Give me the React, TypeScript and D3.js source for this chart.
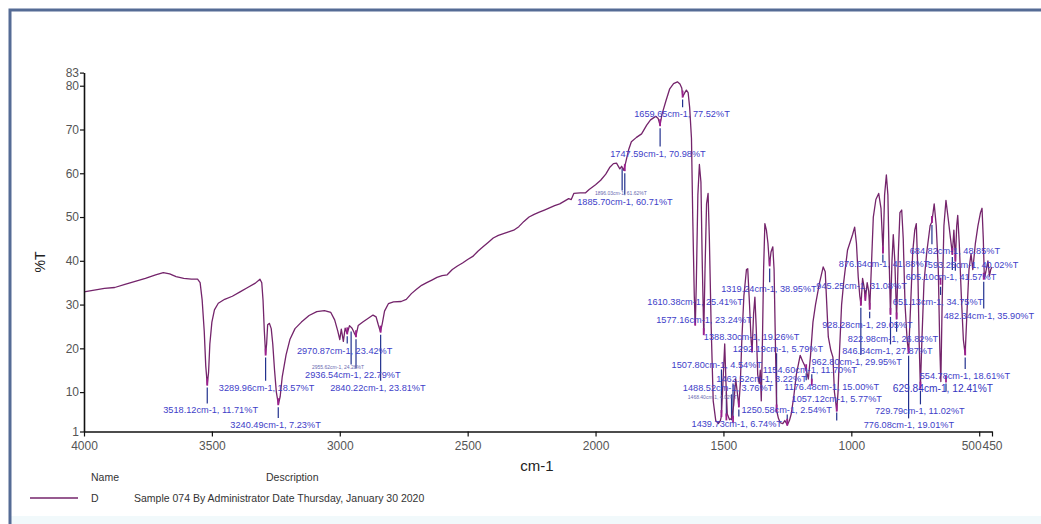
import React, { useEffect, useRef } from 'react'
import * as d3 from 'd3'

const W = 1041
const H = 524

// spectrum, [wavenumber cm-1, %T]
const hydroxylRegion: [number, number][] = [
  [4000, 32.9], [3960, 33.3], [3920, 33.7], [3880, 33.9], [3840, 34.6], [3800, 35.3],
  [3760, 36.0], [3720, 36.8], [3690, 37.3], [3665, 37.0], [3640, 36.4], [3610, 36.0],
  [3580, 35.8], [3556, 35.8], [3546, 35.0], [3538, 31.0], [3530, 24.0], [3524, 16.0],
  [3518, 11.7], [3513, 14.5], [3508, 21.0], [3500, 26.0], [3490, 28.8], [3475, 30.3],
  [3450, 31.2], [3420, 31.9], [3390, 32.9], [3360, 33.9], [3330, 34.9], [3312, 35.8],
  [3305, 35.0], [3300, 31.0], [3295, 24.0], [3290, 18.6], [3286, 21.0], [3282, 25.4],
  [3275, 25.7], [3268, 24.5], [3262, 21.0], [3255, 15.0], [3248, 10.0], [3240, 7.2],
  [3233, 9.0], [3225, 13.5], [3210, 18.5], [3195, 22.0], [3175, 24.5], [3150, 26.0],
  [3120, 27.5], [3090, 28.4], [3060, 28.6], [3035, 28.2], [3020, 26.5], [3008, 24.0],
  [3000, 22.0], [2994, 24.4], [2986, 21.6], [2979, 24.6], [2971, 23.4], [2962, 25.2],
  [2952, 24.6], [2944, 23.6], [2937, 22.8], [2928, 25.2], [2910, 26.0], [2890, 26.8],
  [2870, 27.6], [2858, 27.2], [2850, 25.5], [2841, 23.8], [2834, 25.6], [2825, 28.5],
  [2810, 30.2], [2790, 30.6], [2760, 30.7], [2740, 31.2], [2720, 32.5], [2700, 33.5],
  [2680, 34.4], [2660, 35.0], [2640, 35.6],
]

const baselineRegion: [number, number][] = [
  [2620, 36.2], [2600, 36.6], [2580, 36.8], [2560, 38.0], [2540, 38.8], [2520, 39.5],
  [2500, 40.3], [2480, 41.0], [2460, 42.2], [2440, 43.2], [2420, 44.2], [2400, 45.2],
  [2380, 45.8], [2360, 46.2], [2340, 46.6], [2320, 47.0], [2300, 47.8], [2280, 49.0],
  [2260, 50.0], [2240, 50.6], [2220, 51.1], [2200, 51.6], [2180, 52.1], [2160, 52.6],
  [2140, 53.0], [2120, 53.7], [2105, 54.2], [2095, 54.0], [2085, 55.4], [2060, 55.5],
  [2040, 55.5], [2025, 56.3], [2000, 57.4], [1980, 58.4], [1960, 59.8], [1945, 61.3],
  [1930, 62.2], [1918, 62.3], [1905, 61.0], [1898, 61.6], [1890, 60.7], [1882, 62.5],
  [1870, 65.5], [1860, 67.2], [1840, 68.2], [1820, 69.0], [1800, 71.0], [1785, 72.2],
  [1765, 73.0], [1755, 72.5], [1748, 71.0], [1740, 73.5], [1725, 76.5], [1710, 79.3],
  [1695, 80.5], [1680, 80.9], [1670, 80.4], [1663, 79.5], [1659, 77.5], [1652, 78.3],
  [1645, 79.0], [1638, 78.4],
]

const fingerprintRegion: [number, number][] = [
  [1632, 75], [1625, 68], [1620, 50], [1614, 32], [1610, 25.4], [1606, 35], [1600, 55],
  [1594, 62], [1588, 58], [1583, 40], [1577, 23.2], [1572, 38], [1566, 53], [1560, 55.4],
  [1555, 45], [1548, 25], [1540, 8], [1530, 3.5], [1520, 2.8], [1512, 3.5], [1508, 4.5],
  [1502, 12], [1495, 21], [1490, 12], [1485, 5], [1476, 3.7], [1468, 4], [1460, 7],
  [1452, 13], [1446, 10], [1440, 6.7], [1434, 12], [1428, 22], [1420, 32], [1410, 38],
  [1405, 38.2], [1398, 30], [1392, 22], [1388, 19.3], [1382, 28], [1377, 31.7], [1372, 25],
  [1366, 14], [1360, 12], [1356, 15], [1352, 8], [1348, 20], [1343, 38], [1338, 48.5],
  [1332, 47], [1326, 44], [1320, 39], [1314, 42], [1307, 43.2], [1302, 38], [1298, 25],
  [1292, 5.8], [1285, 4], [1278, 3], [1268, 2.8], [1260, 3.5], [1250, 2.5], [1242, 3.5],
  [1235, 5], [1225, 9], [1215, 14], [1200, 18.4], [1190, 17], [1182, 16], [1176, 15],
  [1168, 13], [1160, 18], [1150, 26], [1140, 30], [1125, 34.8], [1110, 38.6], [1102, 37.5],
  [1096, 30], [1090, 22.6], [1080, 19.5], [1072, 18], [1066, 10], [1057, 5.8], [1052, 10],
  [1046, 19.5], [1038, 30], [1030, 35], [1015, 42.4], [995, 46], [987, 47.7], [980, 44],
  [973, 36.3], [967, 32], [962, 30], [956, 36], [950, 34], [945, 31.1], [938, 35],
  [932, 33], [928, 29], [922, 38], [914, 50], [904, 54], [893, 55.4], [884, 52],
  [876, 41.9], [870, 55], [863, 59.6], [857, 55], [852, 40], [847, 27.9], [841, 40],
  [836, 46], [830, 40], [823, 26.8], [816, 42], [810, 51], [803, 51.6], [797, 45],
  [790, 30], [782, 22], [776, 19], [768, 30], [760, 42], [752, 47], [746, 48.5],
  [740, 38], [735, 22], [730, 11], [724, 22], [716, 35], [705, 42], [692, 48],
  [685, 48.9], [676, 53], [668, 48], [660, 38], [654, 20], [650, 12.4], [645, 30],
  [638, 48], [630, 53.8], [622, 50], [612, 45], [605, 41.6], [599, 47], [593, 40],
  [588, 48], [584, 50.4], [578, 44], [570, 32], [562, 22], [555, 18.6], [548, 28],
  [540, 38], [532, 41.6], [525, 38], [515, 44], [505, 48], [495, 51], [489, 52],
  [484, 45], [480, 36], [474, 37.5], [466, 40], [460, 36.5], [455, 38], [450, 38.6],
]

const xTicks = [4000, 3500, 3000, 2500, 2000, 1500, 1000, 500, 450]
const yTicks = [1, 10, 20, 30, 40, 50, 60, 70, 80, 83]

// picked bands: [wavenumber, %T, label centre cm-1, label level %T]
const pickedBands: [number, number, number, number][] = [
  [3518.12, 11.71, 3505, 5.8],
  [3289.96, 18.57, 3286, 11.0],
  [3240.49, 7.23, 3251, 2.5],
  [2970.87, 23.42, 2981, 19.5],
  [2936.54, 22.79, 2949, 13.8],
  [2840.22, 23.81, 2851, 11.0],
  [1885.70, 60.71, 1885, 53.5],
  [1747.59, 70.98, 1756, 64.5],
  [1659.65, 77.52, 1662, 73.5],
  [1610.38, 25.41, 1611, 30.6],
  [1577.16, 23.24, 1576, 26.5],
  [1319.24, 38.95, 1322, 33.5],
  [1388.30, 19.26, 1390, 22.6],
  [1292.19, 5.79, 1287, 19.8],
  [1507.80, 4.54, 1526, 16.1],
  [1462.52, 3.22, 1351, 12.9],
  [1154.60, 11.70, 1162, 15.0],
  [1488.52, 3.76, 1482, 10.9],
  [1439.73, 6.74, 1448, 2.8],
  [1250.58, 2.54, 1253, 5.8],
  [1176.48, 15.00, 1077, 11.1],
  [1057.12, 5.77, 1057, 8.5],
  [962.80, 29.95, 979, 16.9],
  [945.25, 31.08, 960, 34.2],
  [876.64, 41.88, 872, 39.2],
  [928.28, 29.05, 937, 25.3],
  [822.98, 26.82, 837, 22.2],
  [846.84, 27.87, 859, 19.3],
  [684.82, 48.85, 595, 42.2],
  [593.25, 40.02, 524, 39.1],
  [605.10, 41.57, 610, 36.3],
  [651.13, 34.75, 661, 30.6],
  [482.34, 35.90, 462, 27.5],
  [554.78, 18.61, 556, 13.7],
  [729.79, 11.02, 732, 5.6],
  [776.08, 19.01, 775, 2.4],
]
// printed larger by the software
const mainBand: [number, number, number, number] = [629.84, 12.41, 642, 10.9]

// overprinted tiny labels: [wavenumber, %T, label centre cm-1, label level %T]
const tinyBands: [number, number, number, number][] = [
  [2955.62, 24.28, 3007, 15.6],
  [1896.03, 61.62, 1901, 55.4],
  [1468.40, 4.02, 1543, 8.8],
]

const legendName = 'D'
const legendDesc = 'Sample 074 By Administrator Date Thursday, January 30 2020'

const FONT = 'Liberation Sans, Arial, Helvetica, sans-serif'
const LINE = '#74246b'

const bandText = (b: number[]) => `${b[0].toFixed(2)}cm-1, ${b[1].toFixed(2)}%T`

export default function App() {
  const ref = useRef<SVGSVGElement>(null)

  useEffect(() => {
    const svg = d3.select(ref.current)
    svg.selectAll('*').remove()

    const x = d3.scaleLinear().domain([4000, 450]).range([84, 992])
    const y = d3.scaleLinear().domain([1, 83]).range([431.5, 72.6])

    // page frame
    svg.append('rect').attr('width', W).attr('height', H).attr('fill', '#ffffff')
    svg.append('rect').attr('x', 10).attr('y', 516).attr('width', W - 10).attr('height', 8).attr('fill', '#f1f9fb')
    svg.append('path').attr('d', `M10,${H} V10 H${W}`).attr('fill', 'none').attr('stroke', '#556b95').attr('stroke-width', 3)

    const spectrum = [...hydroxylRegion, ...baselineRegion, ...fingerprintRegion]

    // label leader lines
    const leaders = svg.append('g').attr('stroke', '#22318e').attr('stroke-width', 1.2)
    const allBands = [...pickedBands, mainBand]
    allBands.forEach((b) => {
      const px = x(b[0])
      const py = y(b[1])
      const ty = y(b[3])
      let y1 = py + 3
      let y2 = ty - 7
      if (ty < py) {
        y1 = ty + 4
        y2 = py - 3
      }
      if (y2 - y1 < 6) {
        y1 = py + 2
        y2 = py + 10
      }
      leaders.append('line').attr('x1', px).attr('x2', px).attr('y1', y1).attr('y2', y2)
    })
    tinyBands.forEach((b) => {
      leaders.append('line').attr('x1', x(b[0])).attr('x2', x(b[0]))
        .attr('y1', y(b[1]) + 2).attr('y2', y(b[3]) - 3)
    })

    // spectrum
    const line = d3.line<[number, number]>().x((d) => x(d[0])).y((d) => y(d[1]))
    svg.append('path').datum(spectrum).attr('d', line).attr('fill', 'none')
      .attr('stroke', LINE).attr('stroke-width', 1.3).attr('stroke-linejoin', 'round')

    // band markers
    svg.append('g').selectAll('line').data(allBands).join('line')
      .attr('x1', (d) => x(d[0])).attr('x2', (d) => x(d[0]))
      .attr('y1', (d) => y(d[1]) - 6).attr('y2', (d) => y(d[1]) + 1)
      .attr('stroke', '#9c1f8e').attr('stroke-width', 1.8)

    // band labels
    const labels = svg.append('g').attr('font-family', FONT).attr('fill', '#4040c8').attr('text-anchor', 'middle')
    labels.selectAll('text.band').data(pickedBands).join('text').attr('class', 'band')
      .attr('x', (d) => x(d[2])).attr('y', (d) => y(d[3]) + 3)
      .attr('font-size', 9.2).text((d) => bandText(d))
    labels.append('text').attr('x', x(mainBand[2])).attr('y', y(mainBand[3]) + 4)
      .attr('font-size', 10.2).attr('fill', '#3434c0').text(bandText(mainBand))
    labels.selectAll('text.tiny').data(tinyBands).join('text').attr('class', 'tiny')
      .attr('x', (d) => x(d[2])).attr('y', (d) => y(d[3]) + 1.5)
      .attr('font-size', 5).attr('fill', '#6a6ab0').text((d) => bandText(d))

    // axes
    const xAxis = svg.append('g').attr('transform', `translate(0,${y(1)})`)
      .call(d3.axisBottom(x).tickValues(xTicks).tickSize(5).tickSizeOuter(0).tickFormat(d3.format('d')))
    const yAxis = svg.append('g').attr('transform', `translate(${x(4000)},0)`)
      .call(d3.axisLeft(y).tickValues(yTicks).tickSize(4).tickSizeOuter(0).tickFormat(d3.format('d')))
    ;[xAxis, yAxis].forEach((a) => {
      a.select('.domain').attr('stroke', '#111').attr('stroke-width', 1.6)
      a.selectAll('.tick line').attr('stroke', '#111').attr('stroke-width', 1.2)
      a.selectAll('.tick text').attr('fill', '#555').attr('font-size', 12).attr('font-family', FONT)
    })
    xAxis.selectAll('.tick text').attr('dy', '0.85em')
    xAxis.selectAll('.tick').filter((d) => d === 500).select('text').attr('dx', -8)
    yAxis.selectAll('.tick text').attr('x', -5)

    svg.append('text').attr('x', 537).attr('y', 471).attr('text-anchor', 'middle')
      .attr('font-family', FONT).attr('font-size', 15).attr('fill', '#222').text('cm-1')
    svg.append('text').attr('transform', 'translate(45,262) rotate(-90)').attr('text-anchor', 'middle')
      .attr('font-family', FONT).attr('font-size', 14).attr('fill', '#222').text('%T')

    // legend
    const legend = svg.append('g').attr('font-family', FONT).attr('font-size', 10.5).attr('fill', '#333')
    legend.append('text').attr('x', 91).attr('y', 481).text('Name')
    legend.append('text').attr('x', 266).attr('y', 481).text('Description')
    legend.append('line').attr('x1', 30).attr('x2', 78).attr('y1', 498).attr('y2', 498)
      .attr('stroke', LINE).attr('stroke-width', 1.5)
    legend.append('text').attr('x', 91).attr('y', 502).text(legendName)
    legend.append('text').attr('x', 134).attr('y', 502).text(legendDesc)
  }, [])

  return <svg ref={ref} width={W} height={H} style={{ position: 'absolute', left: 0, top: 0 }} />
}
